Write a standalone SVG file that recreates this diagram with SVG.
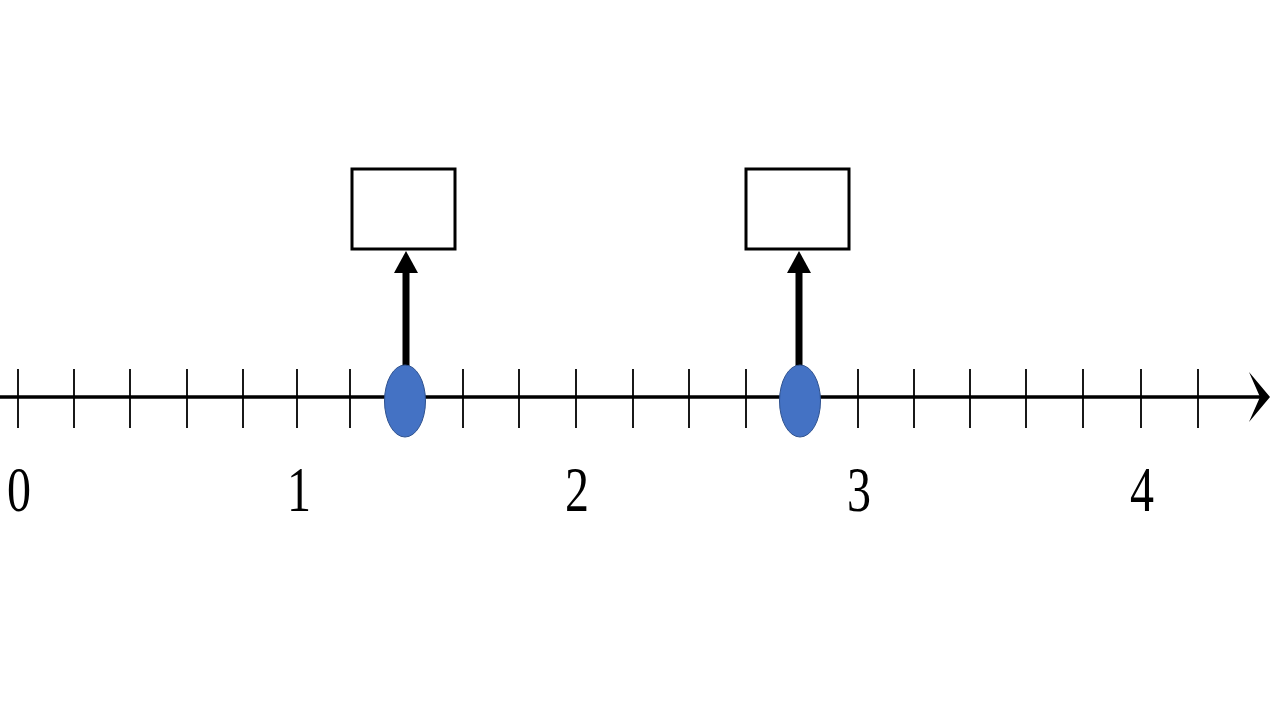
<svg xmlns="http://www.w3.org/2000/svg" width="1280" height="720" viewBox="0 0 1280 720">
<style>
.tick{stroke:#000;stroke-width:1.8}
.axis{stroke:#000;stroke-width:3.4}
.box{fill:#fff;stroke:#000;stroke-width:3}
.dot{fill:#4472C4;stroke:#2F528F;stroke-width:1}
.lbl{font-family:"Liberation Serif","Times New Roman",serif;font-size:64px;fill:#000;text-anchor:middle}
.shaft{stroke:#000;stroke-width:7}
</style>
<rect width="1280" height="720" fill="#fff"/>
<g id="axis">
<line class="axis" x1="0" y1="397" x2="1264" y2="397"/>
<polygon points="1249,372 1270,397 1249,422 1260,397" fill="#000"/>
<g id="ticks">
<line class="tick" x1="18" y1="369" x2="18" y2="428"/>
<line class="tick" x1="74" y1="369" x2="74" y2="428"/>
<line class="tick" x1="130" y1="369" x2="130" y2="428"/>
<line class="tick" x1="187" y1="369" x2="187" y2="428"/>
<line class="tick" x1="243" y1="369" x2="243" y2="428"/>
<line class="tick" x1="297" y1="369" x2="297" y2="428"/>
<line class="tick" x1="350" y1="369" x2="350" y2="428"/>
<line class="tick" x1="406" y1="369" x2="406" y2="428"/>
<line class="tick" x1="463" y1="369" x2="463" y2="428"/>
<line class="tick" x1="519" y1="369" x2="519" y2="428"/>
<line class="tick" x1="576" y1="369" x2="576" y2="428"/>
<line class="tick" x1="633" y1="369" x2="633" y2="428"/>
<line class="tick" x1="689" y1="369" x2="689" y2="428"/>
<line class="tick" x1="746" y1="369" x2="746" y2="428"/>
<line class="tick" x1="802" y1="369" x2="802" y2="428"/>
<line class="tick" x1="858" y1="369" x2="858" y2="428"/>
<line class="tick" x1="914" y1="369" x2="914" y2="428"/>
<line class="tick" x1="970" y1="369" x2="970" y2="428"/>
<line class="tick" x1="1026" y1="369" x2="1026" y2="428"/>
<line class="tick" x1="1083" y1="369" x2="1083" y2="428"/>
<line class="tick" x1="1141" y1="369" x2="1141" y2="428"/>
<line class="tick" x1="1198" y1="369" x2="1198" y2="428"/>
</g>
</g>
<g id="labels">
<text class="lbl" transform="translate(19,511) scale(0.75,1)">0</text>
<text class="lbl" transform="translate(299,511) scale(0.75,1)">1</text>
<text class="lbl" transform="translate(577,511) scale(0.75,1)">2</text>
<text class="lbl" transform="translate(859,511) scale(0.75,1)">3</text>
<text class="lbl" transform="translate(1142,511) scale(0.75,1)">4</text>
</g>
<g id="connectors">
<line class="shaft" x1="406" y1="366" x2="406" y2="270"/>
<polygon points="394,273 418,273 406,251" fill="#000"/>
<line class="shaft" x1="799" y1="366" x2="799" y2="270"/>
<polygon points="787,273 811,273 799,251" fill="#000"/>
</g>
<g id="box1"><rect class="box" x="352" y="169" width="103" height="80"/></g>
<g id="box2"><rect class="box" x="746" y="169" width="103" height="80"/></g>
<g id="dot1"><ellipse class="dot" cx="405" cy="401" rx="20.5" ry="36"/></g>
<g id="dot2"><ellipse class="dot" cx="800" cy="401" rx="20.5" ry="36"/></g>
</svg>
